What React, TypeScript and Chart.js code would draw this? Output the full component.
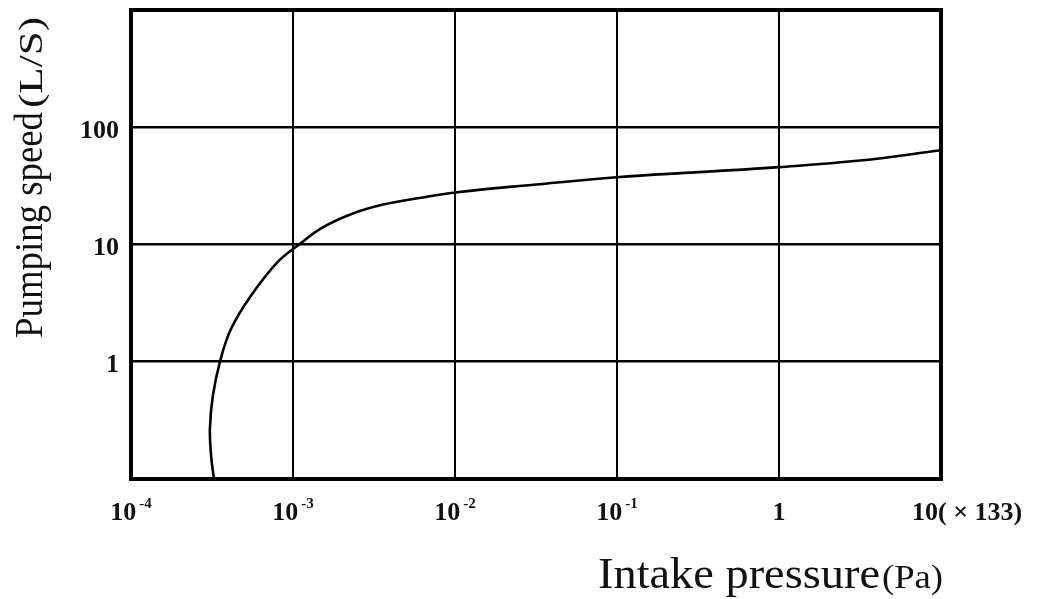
import React, { useEffect, useRef } from "react";
import { Chart, registerables } from "chart.js";

Chart.register(...registerables);

// Data (pressure ×133 Pa, pumping speed L/S)
const PRESSURE = [
  3.25e-4, 3.12e-4, 3.07e-4, 3.2e-4, 3.54e-4, 4.14e-4, 5.5e-4, 8.05e-4, 1.09e-3,
  1.5e-3, 2.3e-3, 3.6e-3, 6e-3, 1e-2, 3.16e-2, 0.1, 0.316, 1, 3.16, 10,
];
const SPEED = [
  0.1, 0.16, 0.27, 0.51, 1, 1.9, 3.65, 7.1, 10, 13.8, 18.2, 21.9, 24.9, 27.8, 32.5,
  37.5, 41.4, 45.7, 52, 63.7,
];

const X_TICKS = [1e-4, 1e-3, 1e-2, 1e-1, 1, 10];
const X_BASE = ["10", "10", "10", "10", "1", "10"];
const X_EXP = ["-4", "-3", "-2", "-1", "", ""];
const X_SUFFIX = "( × 133)";

const Y_TICKS = [0.1, 1, 10, 100, 1000];
const Y_LABELS = ["", "1", "10", "100", ""];

const Y_TITLE = "Pumping speed";
const Y_UNIT = "(L/S)";
const X_TITLE = "Intake pressure";
const X_UNIT = "(Pa)";

const SERIF = "'Liberation Serif', 'DejaVu Serif', serif";

function drawCondensed(
  ctx: CanvasRenderingContext2D,
  text: string,
  x: number,
  y: number,
  font: string,
  targetWidth: number
) {
  ctx.font = font;
  const w = ctx.measureText(text).width;
  ctx.save();
  ctx.translate(x, y);
  ctx.scale(targetWidth / w, 1);
  ctx.fillText(text, 0, 0);
  ctx.restore();
}

const decorPlugin = {
  id: "decor",
  afterDraw(chart: any) {
    const ctx: CanvasRenderingContext2D = chart.ctx;
    const area = chart.chartArea;
    const xs = chart.scales.x;
    ctx.save();
    // frame
    ctx.strokeStyle = "#000";
    ctx.lineWidth = 4;
    ctx.strokeRect(area.left, area.top, area.right - area.left, area.bottom - area.top);

    // x tick labels
    ctx.fillStyle = "#111";
    ctx.textBaseline = "alphabetic";
    const baseFont = `bold 26px ${SERIF}`;
    const supFont = `bold 15px ${SERIF}`;
    const baseY = 520;
    X_TICKS.forEach((v, i) => {
      const px = xs.getPixelForValue(v);
      ctx.font = baseFont;
      const bw = ctx.measureText(X_BASE[i]).width;
      ctx.font = supFont;
      const sw = X_EXP[i] ? ctx.measureText(X_EXP[i]).width + 3 : 0;
      let start = px - (bw + sw) / 2;
      if (i === X_TICKS.length - 1) start = px - 29;
      ctx.font = baseFont;
      ctx.fillText(X_BASE[i], start, baseY);
      if (X_EXP[i]) {
        ctx.font = supFont;
        ctx.fillText(X_EXP[i], start + bw + 3, baseY - 12);
      }
      if (i === X_TICKS.length - 1) {
        ctx.font = baseFont;
        ctx.fillText(X_SUFFIX, start + bw, baseY);
      }
    });

    // x title
    ctx.fillStyle = "#111";
    drawCondensed(ctx, X_TITLE, 598, 588, `45px ${SERIF}`, 282);
    drawCondensed(ctx, X_UNIT, 882, 588, `33px ${SERIF}`, 61);

    // y title (rotated)
    ctx.save();
    ctx.translate(42, 338);
    ctx.rotate(-Math.PI / 2);
    drawCondensed(ctx, Y_TITLE, 0, 0, `41px ${SERIF}`, 226);
    drawCondensed(ctx, Y_UNIT, 230, 0, `33px ${SERIF}`, 91);
    ctx.restore();

    ctx.restore();
  },
};

export default function App() {
  const ref = useRef<HTMLCanvasElement | null>(null);
  useEffect(() => {
    if (!ref.current) return;
    const chart = new Chart(ref.current, {
      type: "scatter",
      data: {
        datasets: [
          {
            data: PRESSURE.map((p, i) => ({ x: p, y: SPEED[i] })),
            showLine: true,
            tension: 0.4,
            borderColor: "#000",
            borderWidth: 2.6,
            pointRadius: 0,
            fill: false,
          },
        ],
      },
      options: {
        animation: false,
        responsive: true,
        maintainAspectRatio: false,
        layout: { autoPadding: false, padding: { top: 10, right: 113, left: 0, bottom: 0 } },
        plugins: { legend: { display: false }, tooltip: { enabled: false } },
        scales: {
          x: {
            type: "logarithmic",
            min: 1e-4,
            max: 10,
            afterBuildTicks: (s: any) => {
              s.ticks = X_TICKS.map((v) => ({ value: v }));
            },
            afterFit: (s: any) => {
              s.height = 120;
              s.paddingLeft = 0;
              s.paddingRight = 0;
            },
            ticks: { display: false },
            grid: { color: "#000", lineWidth: 2, drawTicks: false },
            border: { display: false },
          },
          y: {
            type: "logarithmic",
            min: 0.1,
            max: 1000,
            afterBuildTicks: (s: any) => {
              s.ticks = Y_TICKS.map((v) => ({ value: v }));
            },
            afterFit: (s: any) => {
              s.width = 131;
              s.paddingTop = 0;
              s.paddingBottom = 0;
            },
            ticks: {
              color: "#111",
              padding: 12,
              labelOffset: 4,
              font: { family: SERIF, size: 26, weight: "bold" },
              callback: (_v: any, i: number) => Y_LABELS[i],
            },
            grid: { color: "#000", lineWidth: 2.6, drawTicks: false },
            border: { display: false },
          },
        },
      },
      plugins: [decorPlugin],
    } as any);
    return () => chart.destroy();
  }, []);
  return (
    <div style={{ position: "absolute", left: 0, top: 0, width: 1054, height: 599, background: "#fff" }}>
      <canvas ref={ref} />
    </div>
  );
}
